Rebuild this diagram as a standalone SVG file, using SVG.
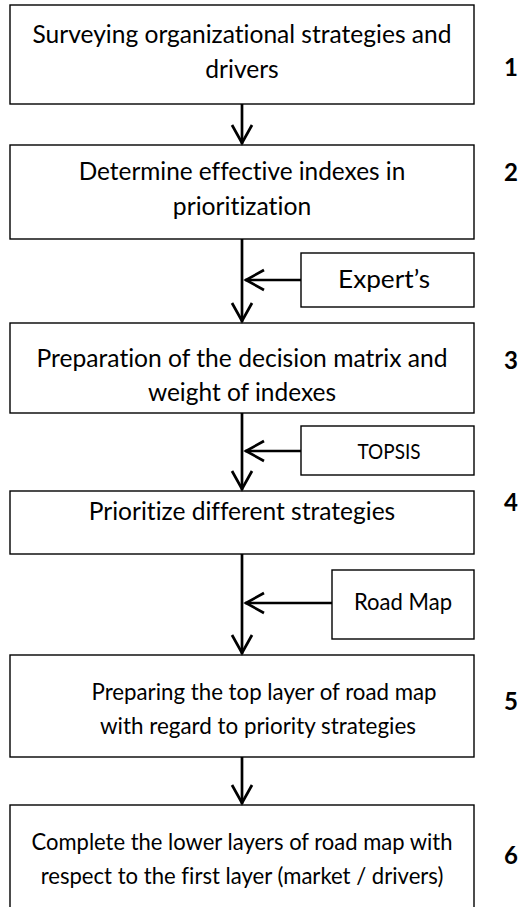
<svg xmlns="http://www.w3.org/2000/svg" width="530" height="907" viewBox="0 0 530 907">
<style>
.box{fill:#fff;stroke:#000;stroke-width:1.4}
.t{font-family:Lato,"Liberation Sans",sans-serif;fill:#000;text-anchor:middle;font-variant-ligatures:none;font-feature-settings:"liga" 0,"clig" 0}
.big{font-size:24.2px}
.mid{font-size:22.6px}
.sm{font-size:20.4px}
.num{font-family:Lato,"Liberation Sans",sans-serif;font-weight:bold;font-size:24px;fill:#000;text-anchor:middle}
.con{fill:none;stroke:#000;stroke-width:2.7}
.head{fill:none;stroke:#000;stroke-width:2.7;stroke-linecap:butt;stroke-linejoin:miter}
</style>
<defs>
<marker id="chev" markerUnits="userSpaceOnUse" markerWidth="40" markerHeight="40" refX="0" refY="0" orient="auto" style="overflow:visible">
<path class="head" d="M-19,-10 L-1,0 L-19,10"/>
</marker>
</defs>
<rect width="530" height="907" fill="#fff"/>
<g id="n1">
<rect class="box" x="10" y="5" width="464" height="99"/>
<text class="t big" x="242" y="43" textLength="419" lengthAdjust="spacingAndGlyphs">Surveying organizational strategies and</text>
<text class="t big" x="242" y="78" textLength="73.5" lengthAdjust="spacingAndGlyphs">drivers</text>
<text class="num" x="511" y="76">1</text>
</g>
<g id="n2">
<rect class="box" x="10" y="145" width="464" height="94"/>
<text class="t big" x="242" y="180" textLength="326.6" lengthAdjust="spacingAndGlyphs">Determine effective indexes in</text>
<text class="t big" x="242" y="215" textLength="138.4" lengthAdjust="spacingAndGlyphs">prioritization</text>
<text class="num" x="511" y="181">2</text>
</g>
<g id="n_expert">
<rect class="box" x="301" y="253" width="173" height="54"/>
<text class="t big" x="384" y="288" textLength="92" lengthAdjust="spacingAndGlyphs">Expert’s</text>
</g>
<g id="n3">
<rect class="box" x="10" y="323" width="464" height="90"/>
<text class="t big" x="242" y="367" textLength="411" lengthAdjust="spacingAndGlyphs">Preparation of the decision matrix and</text>
<text class="t big" x="242" y="401" textLength="188.2" lengthAdjust="spacingAndGlyphs">weight of indexes</text>
<text class="num" x="511" y="369">3</text>
</g>
<g id="n_topsis">
<rect class="box" x="301" y="426" width="173" height="49"/>
<text class="t sm" x="389" y="459" textLength="63" lengthAdjust="spacingAndGlyphs">TOPSIS</text>
</g>
<g id="n4">
<rect class="box" x="10" y="491" width="464" height="63"/>
<text class="t big" x="242" y="520" textLength="306.5" lengthAdjust="spacingAndGlyphs">Prioritize different strategies</text>
<text class="num" x="511" y="511">4</text>
</g>
<g id="n_roadmap">
<rect class="box" x="332" y="570" width="142" height="69"/>
<text class="t mid" x="403" y="610" textLength="98" lengthAdjust="spacingAndGlyphs">Road Map</text>
</g>
<g id="n5">
<rect class="box" x="10" y="655" width="464" height="102"/>
<text class="t mid" x="264" y="700" textLength="345" lengthAdjust="spacingAndGlyphs">Preparing the top layer of road map</text>
<text class="t mid" x="258" y="734" textLength="316" lengthAdjust="spacingAndGlyphs">with regard to priority strategies</text>
<text class="num" x="511" y="710">5</text>
</g>
<g id="n6">
<rect class="box" x="10" y="805" width="464" height="110"/>
<text class="t mid" x="242" y="850" textLength="421" lengthAdjust="spacingAndGlyphs">Complete the lower layers of road map with</text>
<text class="t mid" x="242" y="884" textLength="402.7" lengthAdjust="spacingAndGlyphs">respect to the first layer (market / drivers)</text>
<text class="num" x="511" y="864">6</text>
</g>
<g id="connectors">
<line class="con" x1="242" y1="104" x2="242" y2="144" marker-end="url(#chev)"/>
<line class="con" x1="242" y1="239" x2="242" y2="322" marker-end="url(#chev)"/>
<line class="con" x1="301" y1="280" x2="245" y2="280" marker-end="url(#chev)"/>
<line class="con" x1="242" y1="413" x2="242" y2="490" marker-end="url(#chev)"/>
<line class="con" x1="301" y1="451" x2="245" y2="451" marker-end="url(#chev)"/>
<line class="con" x1="242" y1="554" x2="242" y2="654" marker-end="url(#chev)"/>
<line class="con" x1="332" y1="603" x2="245" y2="603" marker-end="url(#chev)"/>
<line class="con" x1="242" y1="757" x2="242" y2="804" marker-end="url(#chev)"/>
</g>
</svg>
